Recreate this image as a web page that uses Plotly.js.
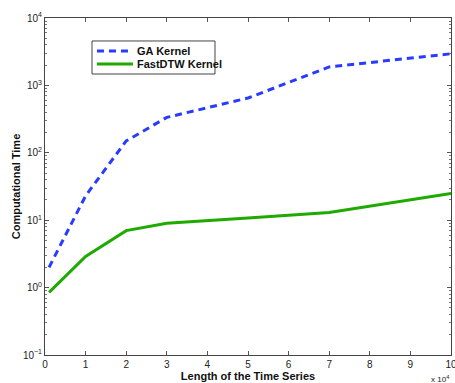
<!DOCTYPE html>
<html><head><meta charset="utf-8">
<script src="https://cdn.plot.ly/plotly-3.0.1.min.js"></script>
<style>html,body{margin:0;padding:0;background:#fff}#chart{width:455px;height:383px}</style>
</head><body><div id="chart"></div>
<script>
const lengths = [0.1, 1, 2, 3, 5, 7, 10];
const gaKernel = [2.0, 23, 150, 335, 650, 1880, 2950];
const fastDtwKernel = [0.85, 2.9, 7.0, 9.0, 10.8, 13.0, 25];
const seriesNames = ['GA Kernel', 'FastDTW Kernel'];
const xTickVals = [0,1,2,3,4,5,6,7,8,9,10];
const xTickText = ['0','1','2','3','4','5','6','7','8','9','10'];
const yTickVals = [0.1, 1, 10, 100, 1000, 10000];
const yTickText = ['10<sup>\u22121</sup>','10<sup>0</sup>','10<sup>1</sup>','10<sup>2</sup>','10<sup>3</sup>','10<sup>4</sup>'];

const styles = [
  {color: 'rgb(40,60,255)', width: 3, dash: '7px,5px'},
  {color: 'rgb(30,170,0)', width: 3, dash: 'solid'}
];
const traces = [
  {x: lengths, y: gaKernel, name: seriesNames[0], mode: 'lines', line: styles[0]},
  {x: lengths, y: fastDtwKernel, name: seriesNames[1], mode: 'lines', line: styles[1]}
];

// manual legend (box, samples, labels) in paper coordinates
const legBox = {x0: 0.1158, x1: 0.4187, y0: 0.8338, y1: 0.9318};
const legRows = [0.9021, 0.8635];
const shapes = [{type: 'rect', xref: 'paper', yref: 'paper', x0: legBox.x0, x1: legBox.x1, y0: legBox.y0, y1: legBox.y1,
  line: {color: '#444', width: 1}, fillcolor: '#fff', layer: 'above'}];
const annotations = [];
seriesNames.forEach((n, i) => {
  shapes.push({type: 'line', xref: 'paper', yref: 'paper', x0: 0.128, x1: 0.2167, y0: legRows[i], y1: legRows[i],
    line: {color: styles[i].color, width: 3, dash: styles[i].dash}, layer: 'above'});
  annotations.push({xref: 'paper', yref: 'paper', x: 0.2217, y: legRows[i], xanchor: 'left', yanchor: 'middle',
    text: '<b>' + n + '</b>', showarrow: false, font: {size: 11, color: '#111'}});
});
annotations.push({xref: 'paper', yref: 'paper', x: 1.0, y: -0.05, xanchor: 'right', yanchor: 'top',
  text: 'x 10<sup>4</sup>', showarrow: false, font: {size: 8, color: '#222'}});

const layout = {
  width: 455, height: 383,
  margin: {l: 45, r: 4, t: 18, b: 28},
  paper_bgcolor: '#fff', plot_bgcolor: '#fff',
  font: {family: 'Liberation Sans, Arial, sans-serif', size: 10, color: '#222'},
  showlegend: false,
  xaxis: {range: [0, 10], tickvals: xTickVals, ticktext: xTickText, ticklabeloverflow: 'allow',
    ticks: 'inside', ticklen: 4, tickcolor: '#555', showline: true, linecolor: '#444',
    mirror: 'ticks', showgrid: false, zeroline: false,
    tickfont: {size: 10, color: '#222'},
    title: {text: 'Length of the Time Series', standoff: 2, font: {size: 11, weight: 'bold', color: '#111'}}},
  yaxis: {type: 'log', range: [-1, 4], tickvals: yTickVals, ticktext: yTickText,
    ticks: 'inside', ticklen: 4, tickcolor: '#555', showline: true, linecolor: '#444',
    mirror: 'ticks', showgrid: false, zeroline: false,
    minor: {ticks: 'inside', ticklen: 2, tickcolor: '#777', showgrid: false, dtick: 'D1'},
    tickfont: {size: 10, color: '#222'},
    title: {text: 'Computational Time', standoff: 0, font: {size: 11, weight: 'bold', color: '#111'}}},
  shapes: shapes,
  annotations: annotations
};
Plotly.newPlot('chart', traces, layout, {displayModeBar: false, staticPlot: true});
</script></body></html>
